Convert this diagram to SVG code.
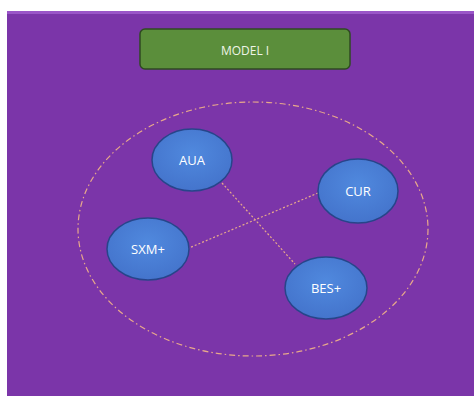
<svg xmlns="http://www.w3.org/2000/svg" width="474" height="396" viewBox="0 0 474 396">
<defs>
<style>
.node ellipse{fill:#4C7FD6;stroke:#27458a;stroke-width:1.5}
.node text{font-family:"Open Sans","Liberation Sans",sans-serif;font-size:13px;fill:#ffffff;text-anchor:middle;dominant-baseline:central}
.conn{stroke:#E8A98A;stroke-width:1.2;stroke-dasharray:2 2;fill:none}
</style>
<radialGradient id="blue" cx="50%" cy="40%" r="60%">
<stop offset="0" stop-color="#5089DE"/>
<stop offset="1" stop-color="#4474CC"/>
</radialGradient>
</defs>
<rect width="474" height="396" fill="#ffffff"/>
<rect x="7" y="11" width="467" height="385" fill="#7B35A9"/>
<rect x="7" y="11" width="467" height="3" fill="#9A55C8"/>
<g id="title">
<rect x="140" y="29" width="210" height="40" rx="5" fill="#5B8E3B" stroke="#2f4a22" stroke-width="1.5"/>
<text x="245" y="50" font-family="'Open Sans','Liberation Sans',sans-serif" font-size="12" fill="#eef5e6" text-anchor="middle" dominant-baseline="central">MODEL I</text>
</g>
<ellipse id="group" cx="253" cy="229" rx="175" ry="127" fill="none" stroke="#E8A98A" stroke-width="1.2" stroke-dasharray="6 3 1.5 3"/>
<g id="connectors">
<line class="conn" x1="222" y1="183" x2="295" y2="264"/>
<line class="conn" x1="318" y1="193" x2="189" y2="248"/>
</g>
<g id="AUA" class="node"><ellipse cx="192" cy="160" rx="40" ry="31" style="fill:url(#blue)"/><text x="192" y="160">AUA</text></g>
<g id="SXM" class="node"><ellipse cx="148" cy="249" rx="41" ry="31" style="fill:url(#blue)"/><text x="148" y="249">SXM+</text></g>
<g id="CUR" class="node"><ellipse cx="358" cy="191" rx="40" ry="32" style="fill:url(#blue)"/><text x="358" y="191">CUR</text></g>
<g id="BES" class="node"><ellipse cx="326" cy="288" rx="41" ry="31" style="fill:url(#blue)"/><text x="326" y="288">BES+</text></g>
</svg>
